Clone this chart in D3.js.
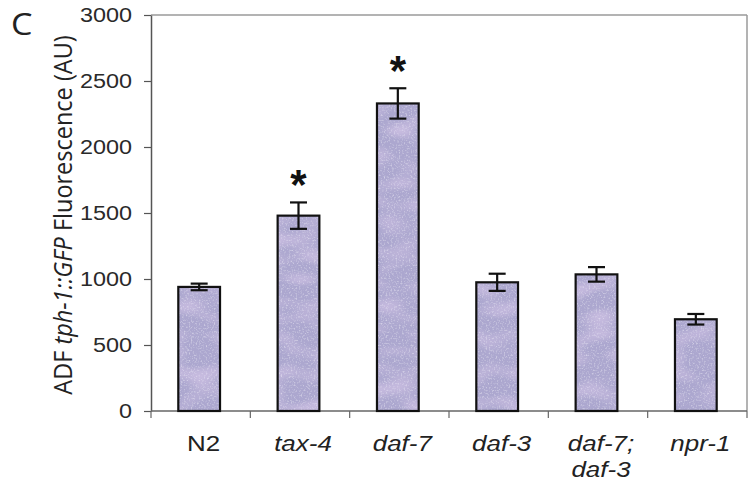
<!DOCTYPE html>
<html>
<head>
<meta charset="utf-8">
<script src="https://cdn.jsdelivr.net/npm/d3@7"></script>
<style>
  body { margin: 0; background: #fff; }
  svg { display: block; }
</style>
</head>
<body>
<div id="grafico"></div>
<script>
// Datos
const categorias = ["N2", "tax-4", "daf-7", "daf-3", "daf-7; daf-3", "npr-1"];
const medias = [940, 1480, 2330, 975, 1035, 695];
const errores = [25, 100, 115, 65, 55, 40];
const significativo = [false, true, true, false, false, false];
const cursiva = [false, true, true, true, true, true];
const ticksY = [0, 500, 1000, 1500, 2000, 2500, 3000];

const datos = categorias.map((c, i) => ({
    cat: c,
    media: medias[i],
    error: errores[i],
    sig: significativo[i],
    it: cursiva[i]
}));

const svgWidth = 748, svgHeight = 494;
const margin = { top: 15, right: 1, bottom: 83, left: 151 };
const width = svgWidth - margin.left - margin.right;
const height = svgHeight - margin.top - margin.bottom;
const estirar = 1.2; // la figura original esta algo ensanchada

const raiz = d3.select("#grafico")
    .append("svg")
    .attr("width", svgWidth)
    .attr("height", svgHeight);

// textura granulada de las barras
const defs = raiz.append("defs");
const filtro = defs.append("filter").attr("id", "grano")
    .attr("x", 0).attr("y", 0).attr("width", 1).attr("height", 1);
filtro.append("feTurbulence").attr("type", "fractalNoise")
    .attr("baseFrequency", "0.6").attr("numOctaves", 2).attr("seed", 3).attr("result", "ruido");
filtro.append("feColorMatrix").attr("in", "ruido").attr("type", "matrix")
    .attr("values", "0 0 0 0 0.86  0 0 0 0 0.84  0 0 0 0 0.95  1.4 0 0 0 -0.72").attr("result", "puntos");
filtro.append("feTurbulence").attr("type", "fractalNoise")
    .attr("baseFrequency", "0.03 0.06").attr("numOctaves", 1).attr("seed", 7).attr("result", "manchas");
filtro.append("feColorMatrix").attr("in", "manchas").attr("type", "matrix")
    .attr("values", "0 0 0 0 0.72  0 0 0 0 0.6  0 0 0 0 0.85  1.6 0 0 0 -0.7").attr("result", "rosas");
const merge = filtro.append("feMerge").attr("result", "mezcla");
merge.append("feMergeNode").attr("in", "SourceGraphic");
merge.append("feMergeNode").attr("in", "rosas");
merge.append("feMergeNode").attr("in", "puntos");
filtro.append("feComposite").attr("in", "mezcla").attr("in2", "SourceGraphic").attr("operator", "in");

const svg = raiz.append("g")
    .attr("transform", `translate(${margin.left}, ${margin.top})`);

// Escalas
const x = d3.scaleBand()
    .domain(categorias)
    .range([0, width])
    .padding(0);

const y = d3.scaleLinear()
    .domain([0, 3000])
    .range([height, 0]);

const anchoBarra = x.bandwidth() * 0.42;
const centro = d => x(d) + x.bandwidth() / 2 - 1.5;

// Marco superior y derecho
svg.append("line")
    .attr("x1", 0).attr("x2", width).attr("y1", y(3000)).attr("y2", y(3000))
    .attr("stroke", "#9a9a9a").attr("stroke-width", 1.5);
svg.append("line")
    .attr("x1", width).attr("x2", width).attr("y1", y(3000)).attr("y2", height)
    .attr("stroke", "#9a9a9a").attr("stroke-width", 1.5);

// Eje Y
const ejeY = svg.append("g")
    .call(d3.axisLeft(y).tickValues(ticksY).tickFormat(d3.format("d"))
        .tickSize(7).tickSizeOuter(0).tickPadding(12));
ejeY.select(".domain").attr("stroke", "#555").attr("stroke-width", 1.5);
ejeY.selectAll(".tick line").attr("stroke", "#555").attr("stroke-width", 1.2);
ejeY.selectAll(".tick text")
    .attr("fill", "#2a2a2a")
    .style("font-family", "'Liberation Sans', Arial, sans-serif")
    .style("font-size", "19.5px")
    .attr("transform", function () {
        const tx = +d3.select(this).attr("x");
        d3.select(this).attr("x", 0);
        return `translate(${tx}, 0) scale(${estirar}, 1)`;
    });

// Eje X: linea y marcas entre categorias
svg.append("line")
    .attr("x1", 0).attr("x2", width).attr("y1", height).attr("y2", height)
    .attr("stroke", "#666").attr("stroke-width", 1.5);
const bordes = categorias.map(c => x(c)).concat([width]);
svg.selectAll("line.marca")
    .data(bordes)
    .enter()
    .append("line")
    .attr("class", "marca")
    .attr("x1", d => d).attr("x2", d => d)
    .attr("y1", height).attr("y2", height + 7)
    .attr("stroke", "#666").attr("stroke-width", 1.2);

// Barras
svg.selectAll("rect.barra")
    .data(datos)
    .enter()
    .append("rect")
    .attr("class", "barra")
    .attr("x", d => centro(d.cat) - anchoBarra / 2)
    .attr("y", d => y(d.media))
    .attr("width", anchoBarra)
    .attr("height", d => height - y(d.media))
    .attr("fill", "#aca7cf")
    .attr("filter", "url(#grano)");

svg.selectAll("rect.borde")
    .data(datos)
    .enter()
    .append("rect")
    .attr("class", "borde")
    .attr("x", d => centro(d.cat) - anchoBarra / 2)
    .attr("y", d => y(d.media))
    .attr("width", anchoBarra)
    .attr("height", d => height - y(d.media))
    .attr("fill", "none")
    .attr("stroke", "#111")
    .attr("stroke-width", 2.2);

// Barras de error
const err = svg.selectAll("g.error")
    .data(datos)
    .enter()
    .append("g")
    .attr("class", "error")
    .attr("stroke", "#111")
    .attr("stroke-width", 2.2);
err.append("line")
    .attr("x1", d => centro(d.cat)).attr("x2", d => centro(d.cat))
    .attr("y1", d => y(d.media + d.error)).attr("y2", d => y(d.media - d.error));
err.append("line")
    .attr("x1", d => centro(d.cat) - 8.5).attr("x2", d => centro(d.cat) + 8.5)
    .attr("y1", d => y(d.media + d.error)).attr("y2", d => y(d.media + d.error));
err.append("line")
    .attr("x1", d => centro(d.cat) - 8.5).attr("x2", d => centro(d.cat) + 8.5)
    .attr("y1", d => y(d.media - d.error)).attr("y2", d => y(d.media - d.error));

// Asteriscos de significancia
svg.selectAll("text.asterisco")
    .data(datos.filter(d => d.sig))
    .enter()
    .append("text")
    .attr("class", "asterisco")
    .attr("x", d => centro(d.cat))
    .attr("y", d => y(d.media + d.error) - 3)
    .attr("text-anchor", "middle")
    .style("font-family", "'Liberation Sans', Arial, sans-serif")
    .style("font-weight", "bold")
    .style("font-size", "42px")
    .attr("fill", "#111")
    .text("*");

// Etiquetas del eje X
const etiquetas = svg.selectAll("text.cat")
    .data(datos)
    .enter()
    .append("text")
    .attr("class", "cat")
    .attr("transform", d => `translate(${centro(d.cat) + 4.5}, ${height + 40}) scale(${estirar - 0.02}, 1)`)
    .attr("text-anchor", "middle")
    .attr("fill", "#222")
    .style("font-family", "'Liberation Sans', Arial, sans-serif")
    .style("font-size", "22px")
    .style("font-style", d => d.it ? "italic" : "normal");
etiquetas.each(function (d) {
    const partes = d.cat.split(" ");
    const t = d3.select(this);
    partes.forEach((p, i) => {
        t.append("tspan").attr("x", 0).attr("dy", i === 0 ? 0 : 26).text(p);
    });
});

// Titulo del eje Y
const tituloY = raiz.append("text")
    .attr("transform", `translate(72, 215) scale(1.12, 1) rotate(-90)`)
    .attr("text-anchor", "middle")
    .attr("fill", "#222")
    .style("font-family", "'Open Sans', sans-serif")
    .style("font-size", "23.5px");
tituloY.append("tspan").text("ADF ");
tituloY.append("tspan").style("font-style", "italic").text("tph-1::GFP");
tituloY.append("tspan").text(" Fluorescence (AU)");

// Letra del panel
raiz.append("text")
    .attr("transform", "translate(11, 35) scale(1.1, 1)")
    .attr("fill", "#222")
    .style("font-family", "'Open Sans', sans-serif")
    .style("font-size", "31px")
    .text("C");
</script>
</body>
</html>
